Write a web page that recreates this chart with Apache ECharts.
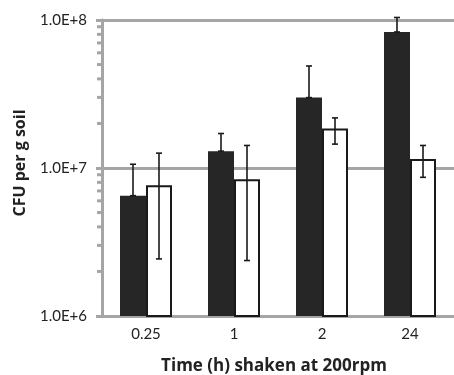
<!DOCTYPE html>
<html>
<head>
<meta charset="utf-8">
<script src="https://cdn.jsdelivr.net/npm/echarts@6/dist/echarts.min.js"></script>
<style>html,body{margin:0;padding:0;background:#fff;}#c{width:454px;height:375px;}</style>
</head>
<body>
<div id="c"></div>
<script>
const categories = ['0.25', '1', '2', '24'];
const blackValues = [6.5e6, 1.30e7, 2.99e7, 8.3e7];
const blackUpper  = [1.06e7, 1.71e7, 4.89e7, 1.04e8];
const blackLower  = [6.5e6, 1.30e7, 2.99e7, 8.3e7];
const whiteValues = [7.64e6, 8.4e6, 1.85e7, 1.15e7];
const whiteUpper  = [1.26e7, 1.42e7, 2.18e7, 1.42e7];
const whiteLower  = [2.43e6, 2.37e6, 1.45e7, 8.65e6];
const yTickLabels = {1e6: '1.0E+6', 1e7: '1.0E+7', 1e8: '1.0E+8'};
const minorTickValues = [2e6,3e6,4e6,5e6,6e6,7e6,8e6,9e6,2e7,3e7,4e7,5e7,6e7,7e7,8e7,9e7];

const FONT = 'Lato';
const TFONT = '"Open Sans"';
const GREY = '#a5a5a5';
const BAR_W = 26;

function errData(up, lo) {
  return categories.map((c, i) => [i, lo[i], up[i]]);
}
function errRender(offset) {
  return function (params, api) {
    const i = api.value(0);
    const top = api.coord([i, api.value(2)]);
    const bot = api.coord([i, api.value(1)]);
    const x = top[0] + offset;
    const cap = 3;
    const style = {stroke: '#1a1a1a', lineWidth: 1.6, fill: null};
    return {
      type: 'group',
      children: [
        {type: 'line', shape: {x1: x, y1: top[1], x2: x, y2: bot[1]}, style},
        {type: 'line', shape: {x1: x - cap, y1: top[1], x2: x + cap, y2: top[1]}, style},
        {type: 'line', shape: {x1: x - cap, y1: bot[1], x2: x + cap, y2: bot[1]}, style}
      ]
    };
  };
}

const chart = echarts.init(document.getElementById('c'), null, {renderer: 'canvas'});
chart.setOption({
  animation: false,
  grid: {left: 102, right: -4, top: 20, bottom: 59, containLabel: false},
  xAxis: {
    type: 'category',
    data: categories,
    axisLine: {show: true, lineStyle: {color: GREY, width: 3}},
    axisTick: {show: false},
    axisLabel: {color: '#222', fontFamily: FONT, fontSize: 15, margin: 11}
  },
  yAxis: {
    type: 'log',
    logBase: 10,
    min: 1e6,
    max: 1e8,
    axisLine: {show: true, lineStyle: {color: GREY, width: 3}},
    axisTick: {show: true, length: 6, lineStyle: {color: GREY, width: 3}},
    splitLine: {show: true, lineStyle: {color: GREY, width: 3}},
    axisLabel: {
      color: '#222', fontFamily: FONT, fontSize: 15, margin: 15,
      formatter: v => yTickLabels[Math.round(v)] || ''
    }
  },
  graphic: [
    {type: 'text', x: 274, y: 366, style: {text: 'Time (h) shaken at 200rpm', align: 'center', verticalAlign: 'middle', font: 'bold 17px ' + TFONT, fill: '#222'}},
    {type: 'text', rotation: Math.PI / 2, x: 20, y: 163, style: {text: 'CFU per g soil', align: 'center', verticalAlign: 'middle', font: 'bold 16px ' + TFONT, fill: '#222'}}
  ],
  series: [
    {
      type: 'bar', data: blackValues, barWidth: BAR_W, barGap: '0%',
      itemStyle: {color: '#262626'}, z: 3
    },
    {
      type: 'bar', data: whiteValues, barWidth: BAR_W, barGap: '0%',
      itemStyle: {color: '#fff', borderColor: '#1a1a1a', borderWidth: 2}, z: 3
    },
    {
      type: 'custom', data: errData(blackUpper, blackLower), renderItem: errRender(-BAR_W / 2), z: 5,
      encode: {x: 0, y: [1, 2]}
    },
    {
      type: 'custom', data: errData(whiteUpper, whiteLower), renderItem: errRender(BAR_W / 2), z: 5,
      encode: {x: 0, y: [1, 2]}
    },
    {
      type: 'custom', data: minorTickValues.map(v => [0, v]), z: 4,
      encode: {x: 0, y: 1},
      renderItem: function (params, api) {
        const p = api.coord([0, api.value(1)]);
        const half = api.size([1, 0])[0] / 2;
        const x = p[0] - half;
        return {type: 'line', shape: {x1: x - 5, y1: p[1], x2: x, y2: p[1]}, style: {stroke: GREY, lineWidth: 3}};
      }
    }
  ]
});
</script>
</body>
</html>
